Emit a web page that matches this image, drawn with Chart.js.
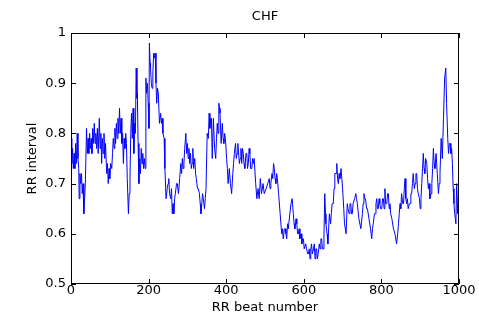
<!DOCTYPE html>
<html>
<head>
<meta charset="utf-8">
<script src="https://cdn.jsdelivr.net/npm/chart.js@4/dist/chart.umd.min.js"></script>
<style>
    html, body { margin: 0; padding: 0; background: #fff; }
    #rrChart { display: block; }
</style>
</head>
<body>
<canvas id="rrChart" width="479" height="325"></canvas>
<script>
// RR tachogram, CHF subject

const chartTitle = 'CHF';
const xLabel = 'RR beat number';
const yLabel = 'RR interval';
const xTicks = [0, 200, 400, 600, 800, 1000];
const yTicks = [0.5, 0.6, 0.7, 0.8, 0.9, 1];

const beats = [
    0, 2, 4, 6, 8, 10, 12, 14, 16, 18, 20, 21, 23, 25, 27, 29, 31, 33, 35, 37,
    40, 42, 44, 46, 48, 50, 52, 54, 56, 58, 60, 62, 64, 66, 68, 70, 73, 75, 77, 79,
    81, 83, 85, 87, 89, 92, 94, 96, 98, 100, 102, 105, 107, 109, 111, 113, 115, 117, 119, 121,
    123, 125, 127, 129, 131, 133, 135, 137, 139, 141, 143, 145, 148, 150, 152, 154, 156, 158, 160, 162,
    164, 166, 168, 170, 171, 173, 175, 177, 179, 181, 183, 185, 187, 189, 191, 193, 195, 197, 199, 201,
    202, 204, 205, 207, 209, 211, 213, 215, 217, 219, 221, 223, 225, 228, 231, 233, 235, 237, 240, 242,
    245, 248, 250, 252, 254, 257, 259, 261, 263, 265, 267, 269, 272, 274, 277, 280, 283, 285, 287, 289,
    291, 293, 296, 298, 300, 302, 304, 306, 308, 310, 312, 314, 316, 319, 321, 323, 326, 328, 331, 333,
    335, 337, 339, 341, 344, 346, 348, 351, 354, 356, 358, 360, 362, 364, 367, 370, 373, 375, 377, 379,
    381, 383, 384, 387, 390, 392, 394, 396, 398, 401, 403, 405, 408, 411, 414, 417, 419, 421, 424, 426,
    428, 430, 431, 434, 436, 438, 440, 442, 444, 446, 448, 451, 453, 455, 457, 459, 461, 463, 466, 468,
    470, 472, 476, 479, 482, 485, 488, 491, 495, 498, 503, 507, 511, 513, 515, 518, 520, 522, 524, 526,
    528, 530, 532, 535, 539, 543, 545, 547, 550, 552, 554, 556, 558, 560, 564, 567, 570, 573, 575, 577,
    580, 582, 584, 586, 588, 590, 593, 595, 597, 599, 601, 603, 605, 607, 610, 612, 614, 616, 618, 620,
    622, 625, 627, 629, 631, 633, 635, 637, 640, 642, 644, 646, 648, 650, 652, 654, 656, 657, 660, 662,
    664, 666, 669, 671, 673, 676, 678, 680, 683, 685, 687, 689, 691, 693, 696, 698, 700, 703, 705, 709,
    712, 714, 717, 719, 721, 723, 725, 727, 729, 731, 734, 736, 738, 742, 747, 751, 753, 755, 757, 759,
    762, 764, 768, 772, 775, 777, 779, 782, 784, 786, 788, 790, 792, 794, 796, 798, 801, 803, 805, 807,
    809, 811, 814, 816, 818, 820, 822, 824, 827, 831, 835, 839, 842, 844, 846, 848, 850, 852, 855, 857,
    859, 861, 863, 865, 867, 869, 872, 874, 876, 878, 880, 882, 885, 887, 889, 891, 893, 895, 898, 900,
    902, 904, 906, 908, 910, 912, 914, 917, 919, 921, 923, 925, 928, 930, 932, 934, 936, 938, 941, 944,
    947, 949, 951, 954, 957, 960, 963, 966, 968, 971, 973, 975, 977, 979, 981, 983, 985, 987, 989, 992,
    994, 996, 997, 999
];

const rrValues = [
    0.79, 0.74, 0.77, 0.73, 0.76, 0.73, 0.78, 0.74, 0.80, 0.75, 0.73, 0.67, 0.72, 0.70, 0.72, 0.68, 0.70, 0.64, 0.67, 0.70,
    0.81, 0.76, 0.79, 0.76, 0.80, 0.77, 0.79, 0.76, 0.81, 0.78, 0.82, 0.78, 0.80, 0.77, 0.81, 0.76, 0.83, 0.77, 0.80, 0.74,
    0.79, 0.76, 0.80, 0.75, 0.78, 0.72, 0.74, 0.70, 0.73, 0.71, 0.74, 0.73, 0.76, 0.79, 0.77, 0.81, 0.78, 0.82, 0.79, 0.83,
    0.80, 0.85, 0.80, 0.83, 0.78, 0.80, 0.74, 0.79, 0.77, 0.80, 0.78, 0.71, 0.64, 0.68, 0.71, 0.80, 0.84, 0.79, 0.85, 0.76,
    0.82, 0.80, 0.93, 0.87, 0.88, 0.78, 0.70, 0.75, 0.72, 0.77, 0.74, 0.76, 0.73, 0.75, 0.73, 0.91, 0.88, 0.90, 0.86, 0.81,
    0.98, 0.94, 0.93, 0.90, 0.89, 0.92, 0.96, 0.95, 0.96, 0.90, 0.86, 0.89, 0.88, 0.82, 0.84, 0.82, 0.83, 0.80, 0.79, 0.73,
    0.67, 0.69, 0.70, 0.71, 0.68, 0.67, 0.69, 0.64, 0.66, 0.64, 0.67, 0.68, 0.70, 0.70, 0.68, 0.71, 0.74, 0.72, 0.75, 0.73,
    0.74, 0.77, 0.80, 0.76, 0.78, 0.75, 0.77, 0.74, 0.76, 0.73, 0.74, 0.77, 0.73, 0.75, 0.72, 0.71, 0.69, 0.69, 0.68, 0.66,
    0.64, 0.66, 0.68, 0.67, 0.65, 0.67, 0.69, 0.80, 0.79, 0.84, 0.81, 0.83, 0.83, 0.75, 0.83, 0.77, 0.75, 0.79, 0.82, 0.80,
    0.86, 0.85, 0.84, 0.78, 0.82, 0.79, 0.78, 0.80, 0.79, 0.75, 0.73, 0.70, 0.73, 0.70, 0.68, 0.72, 0.74, 0.76, 0.78, 0.75,
    0.76, 0.78, 0.77, 0.74, 0.75, 0.77, 0.74, 0.77, 0.76, 0.74, 0.73, 0.76, 0.76, 0.73, 0.74, 0.77, 0.76, 0.73, 0.73, 0.75,
    0.74, 0.75, 0.70, 0.67, 0.69, 0.67, 0.71, 0.68, 0.70, 0.68, 0.69, 0.70, 0.71, 0.69, 0.70, 0.72, 0.71, 0.74, 0.73, 0.71,
    0.70, 0.72, 0.71, 0.68, 0.64, 0.60, 0.61, 0.59, 0.61, 0.61, 0.60, 0.59, 0.62, 0.61, 0.64, 0.66, 0.67, 0.64, 0.62, 0.61,
    0.63, 0.62, 0.60, 0.60, 0.61, 0.59, 0.60, 0.58, 0.59, 0.59, 0.57, 0.57, 0.58, 0.57, 0.56, 0.56, 0.57, 0.55, 0.57, 0.58,
    0.56, 0.57, 0.58, 0.55, 0.57, 0.57, 0.55, 0.56, 0.58, 0.57, 0.59, 0.59, 0.57, 0.57, 0.60, 0.68, 0.64, 0.62, 0.60, 0.58,
    0.61, 0.64, 0.62, 0.64, 0.66, 0.66, 0.69, 0.72, 0.72, 0.74, 0.71, 0.70, 0.72, 0.71, 0.73, 0.73, 0.69, 0.65, 0.62, 0.60,
    0.66, 0.65, 0.64, 0.66, 0.66, 0.64, 0.64, 0.66, 0.66, 0.67, 0.68, 0.67, 0.66, 0.63, 0.61, 0.64, 0.66, 0.68, 0.67, 0.67,
    0.65, 0.65, 0.63, 0.61, 0.59, 0.61, 0.62, 0.64, 0.64, 0.66, 0.67, 0.65, 0.65, 0.67, 0.66, 0.65, 0.65, 0.67, 0.67, 0.65,
    0.69, 0.66, 0.66, 0.68, 0.68, 0.65, 0.66, 0.64, 0.63, 0.61, 0.60, 0.58, 0.60, 0.62, 0.64, 0.66, 0.65, 0.68, 0.66, 0.66,
    0.69, 0.71, 0.67, 0.66, 0.67, 0.65, 0.66, 0.66, 0.68, 0.68, 0.70, 0.72, 0.69, 0.70, 0.72, 0.72, 0.69, 0.68, 0.67, 0.65,
    0.67, 0.70, 0.73, 0.76, 0.73, 0.72, 0.75, 0.74, 0.71, 0.69, 0.70, 0.67, 0.68, 0.70, 0.73, 0.77, 0.74, 0.73, 0.76, 0.72,
    0.68, 0.70, 0.72, 0.79, 0.75, 0.83, 0.91, 0.93, 0.86, 0.79, 0.76, 0.78, 0.78, 0.76, 0.77, 0.74, 0.69, 0.66, 0.64, 0.62,
    0.70, 0.66, 0.64, 0.65
];

const fontFamily = '"DejaVu Sans", Arial, sans-serif';

// MATLAB-style box with inward ticks on all four sides, title over the plot area
const matlabFrame = {
    id: 'matlabFrame',
    afterDraw(chart) {
        const ctx = chart.ctx;
        const area = chart.chartArea;
        const xs = chart.scales.x;
        const ys = chart.scales.y;
        const tickLen = 5;
        ctx.save();
        ctx.strokeStyle = '#000';
        ctx.lineWidth = 1;
        ctx.beginPath();
        xTicks.forEach(v => {
            const px = Math.round(xs.getPixelForValue(v)) + 0.5;
            ctx.moveTo(px, area.bottom);
            ctx.lineTo(px, area.bottom - tickLen);
            ctx.moveTo(px, area.top);
            ctx.lineTo(px, area.top + tickLen);
        });
        yTicks.forEach(v => {
            const py = Math.round(ys.getPixelForValue(v)) + 0.5;
            ctx.moveTo(area.left, py);
            ctx.lineTo(area.left + tickLen, py);
            ctx.moveTo(area.right, py);
            ctx.lineTo(area.right - tickLen, py);
        });
        ctx.stroke();
        ctx.strokeRect(Math.round(area.left) + 0.5, Math.round(area.top) + 0.5,
            Math.round(area.right - area.left) - 1, Math.round(area.bottom - area.top) - 1);
        ctx.fillStyle = '#000';
        ctx.font = '13px ' + fontFamily;
        ctx.textAlign = 'center';
        ctx.textBaseline = 'alphabetic';
        ctx.fillText(chartTitle, (area.left + area.right) / 2, 20);
        ctx.restore();
    }
};

function renderChart() {
    const ctx = document.getElementById('rrChart').getContext('2d');
    const points = beats.map((b, i) => ({ x: b, y: rrValues[i] }));
    Chart.defaults.font.family = fontFamily;
    Chart.defaults.font.size = 13;
    Chart.defaults.color = '#000';
    new Chart(ctx, {
        type: 'line',
        data: {
            datasets: [{
                data: points,
                borderColor: '#0000ff',
                borderWidth: 1,
                pointRadius: 0,
                tension: 0,
                fill: false
            }]
        },
        options: {
            responsive: false,
            animation: false,
            layout: { padding: { top: 33, right: 20, left: 0, bottom: 0 } },
            plugins: {
                legend: { display: false },
                tooltip: { enabled: false }
            },
            scales: {
                x: {
                    type: 'linear',
                    min: 0,
                    max: 1000,
                    afterFit: scale => { scale.height = 41; },
                    afterBuildTicks: scale => { scale.ticks = xTicks.map(v => ({ value: v })); },
                    grid: { display: false, drawTicks: false },
                    border: { display: false },
                    ticks: { padding: -1, maxRotation: 0, callback: v => String(v) },
                    title: {
                        display: true,
                        text: xLabel,
                        font: { size: 13 },
                        padding: { top: 0, bottom: 10 }
                    }
                },
                y: {
                    min: 0.5,
                    max: 1,
                    afterFit: scale => { scale.width = 71; },
                    afterBuildTicks: scale => { scale.ticks = yTicks.map(v => ({ value: v })); },
                    grid: { display: false, drawTicks: false },
                    border: { display: false },
                    ticks: { padding: 5, callback: v => String(v) },
                    title: {
                        display: true,
                        text: yLabel,
                        font: { size: 13 },
                        padding: { top: 25, bottom: 0 }
                    }
                }
            }
        },
        plugins: [matlabFrame]
    });
}

document.addEventListener('DOMContentLoaded', () => {
    renderChart();
});
</script>
</body>
</html>
